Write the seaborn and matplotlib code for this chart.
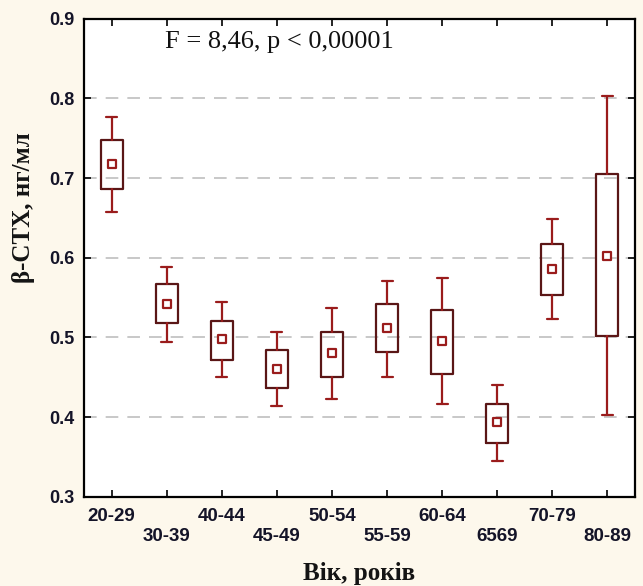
import matplotlib
matplotlib.use("Agg")
import matplotlib.pyplot as plt
import seaborn as sns
import pandas as pd

categories = ["20-29", "30-39", "40-44", "45-49", "50-54", "55-59", "60-64", "65-69", "70-79", "80-89"]
tick_labels = ["20-29", "30-39", "40-44", "45-49", "50-54", "55-59", "60-64", "6569", "70-79", "80-89"]
means = [0.717, 0.542, 0.498, 0.461, 0.480, 0.512, 0.496, 0.394, 0.586, 0.602]
box_low = [0.686, 0.518, 0.472, 0.437, 0.451, 0.482, 0.454, 0.368, 0.553, 0.502]
box_high = [0.748, 0.567, 0.521, 0.484, 0.507, 0.542, 0.534, 0.417, 0.617, 0.705]
whisk_low = [0.657, 0.494, 0.451, 0.414, 0.423, 0.451, 0.417, 0.345, 0.523, 0.403]
whisk_high = [0.777, 0.588, 0.545, 0.507, 0.537, 0.571, 0.575, 0.441, 0.649, 0.803]
y_ticks = [0.3, 0.4, 0.5, 0.6, 0.7, 0.8, 0.9]
grid_levels = [0.4, 0.5, 0.6, 0.7, 0.8]

sns.set_theme(style="white")
plt.rcParams["font.family"] = ["Liberation Sans", "DejaVu Sans"]

BOX_C = "#5a1616"
WH_C = "#9a1c1c"
BG = "#fdf8ec"

fig = plt.figure(figsize=(6.43, 5.86), dpi=100, facecolor=BG)
ax = fig.add_axes([0.1306, 0.1519, 0.8570, 0.8165])
ax.set_facecolor("white")

for g in grid_levels:
    ax.axhline(g, color="#c4c4c4", lw=1.3, dashes=(7, 5), zorder=0)

stats = []
for i, c in enumerate(categories):
    stats.append(dict(label=c, med=means[i], q1=box_low[i], q3=box_high[i],
                      whislo=whisk_low[i], whishi=whisk_high[i], fliers=[]))
ax.bxp(stats, positions=list(range(len(categories))), widths=0.4,
       showfliers=False, manage_ticks=False,
       boxprops=dict(color=BOX_C, lw=1.6),
       whiskerprops=dict(color=WH_C, lw=1.6),
       capprops=dict(color=WH_C, lw=1.6),
       medianprops=dict(visible=False), capwidths=0.2)

df = pd.DataFrame({"pos": list(range(len(categories))), "mean": means})
sns.scatterplot(data=df, x="pos", y="mean", ax=ax, marker="s", s=26,
                facecolor="white", edgecolor=WH_C, linewidth=1.6, zorder=5, legend=False)

ax.set_xlim(-0.5, 9.5)
ax.set_ylim(0.3, 0.9)
ax.set_yticks(y_ticks)
ax.set_yticklabels([f"{v:.1f}" for v in y_ticks], fontsize=13, fontweight="bold", color="#141428")
ax.set_xticks(list(range(len(categories))))
ax.set_xticklabels([t if i % 2 == 0 else "\n" + t for i, t in enumerate(tick_labels)],
                   fontsize=13.5, fontweight="bold", color="#141428", linespacing=1.25)
ax.tick_params(axis="both", direction="in", length=5, width=1.2, color="black",
               top=True, right=True, bottom=True, left=True, pad=7)
ax.tick_params(axis="x", pad=8)
for s in ax.spines.values():
    s.set_visible(True)
    s.set_color("black")
    s.set_linewidth(1.6)

ax.set_xlabel("")
ax.set_ylabel("")
ax.text(0.354, 0.951, "F = 8,46, p < 0,00001", transform=ax.transAxes, ha="center", va="center",
        fontsize=19, family=["Liberation Serif"], color="#111111")
fig.text(0.036, 0.645, "β-CTX, нг/мл", rotation=90, ha="center", va="center",
         fontsize=18, fontweight="bold", family=["Liberation Serif"], color="#141414")
fig.text(0.558, 0.011, "Вік, років", ha="center", va="baseline",
         fontsize=18, fontweight="bold", family=["Liberation Serif"], color="#141414")

fig.savefig("out.png", dpi=100, facecolor=BG)
